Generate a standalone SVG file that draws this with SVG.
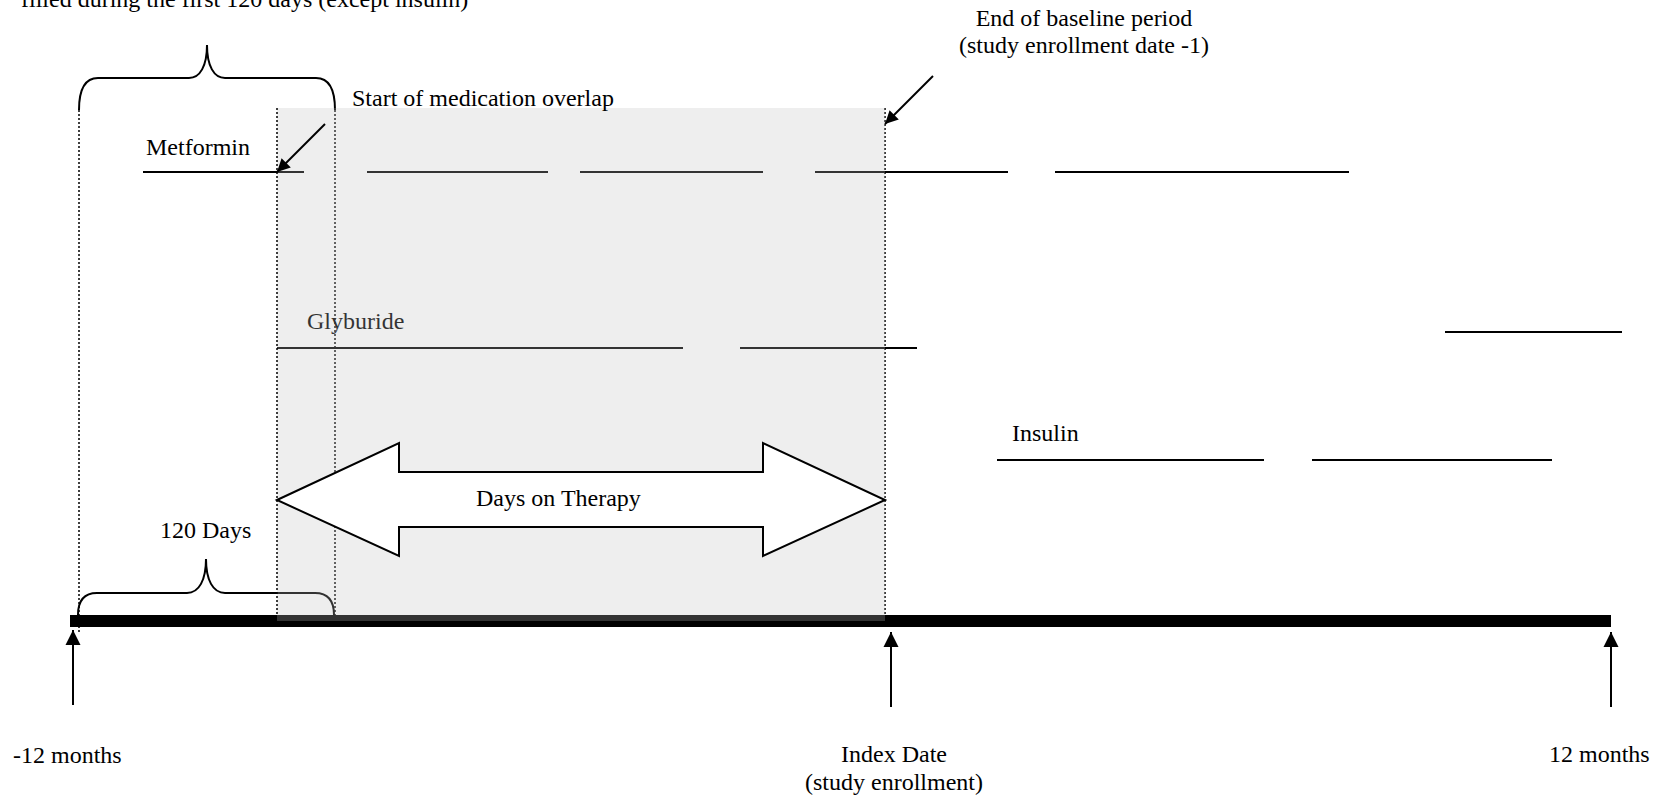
<svg xmlns="http://www.w3.org/2000/svg" width="1663" height="799" viewBox="0 0 1663 799">
<style>
text{font-family:"Liberation Serif","Times New Roman",serif;font-size:24px;fill:#000}
.rx{stroke:#000;stroke-width:2;fill:none}
.dot{stroke:#000;stroke-width:1.5;stroke-dasharray:2 2;fill:none}
.br{stroke:#000;stroke-width:2;fill:none}
.mid{text-anchor:middle}
</style>
<defs>
<marker id="ah" viewBox="0 0 10 10" refX="10" refY="5" markerUnits="userSpaceOnUse" markerWidth="16" markerHeight="13" orient="auto">
<path d="M0,0 L10,5 L0,10 z" fill="#000"/>
</marker>
<marker id="ahv" viewBox="0 0 10 10" refX="10" refY="5" markerUnits="userSpaceOnUse" markerWidth="15" markerHeight="16" orient="auto">
<path d="M0,0 L10,5 L0,10 z" fill="#000"/>
</marker>
</defs>
<rect width="1663" height="799" fill="#fff"/>

<g id="top-note"><text x="21" y="7">filled during the first 120 days (except insulin)</text></g>
<g id="top-brace"><path class="br" d="M79,110 C79,88 86,78 98,78 L189,78 C200,78 207,66 207,45 C207,66 214,78 225,78 L316,78 C328,78 335,88 335,110"/></g>

<g id="guides">
<line class="dot" x1="79" y1="110" x2="79" y2="633"/>
<line class="dot" x1="335" y1="110" x2="335" y2="627"/>
<line class="dot" x1="885" y1="108" x2="885" y2="615"/>
</g>

<g id="metformin">
<text x="146" y="155">Metformin</text>
<line class="rx" x1="143" y1="172" x2="304" y2="172"/>
<line class="rx" x1="367" y1="172" x2="548" y2="172"/>
<line class="rx" x1="580" y1="172" x2="763" y2="172"/>
<line class="rx" x1="815" y1="172" x2="1008" y2="172"/>
<line class="rx" x1="1055" y1="172" x2="1349" y2="172"/>
</g>

<g id="glyburide">
<text x="307" y="329">Glyburide</text>
<line class="rx" x1="277" y1="348" x2="683" y2="348"/>
<line class="rx" x1="740" y1="348" x2="917" y2="348"/>
<line class="rx" x1="1445" y1="332" x2="1622" y2="332"/>
</g>

<g id="insulin">
<text x="1012" y="441">Insulin</text>
<line class="rx" x1="997" y1="460" x2="1264" y2="460"/>
<line class="rx" x1="1312" y1="460" x2="1552" y2="460"/>
</g>

<g id="days-120">
<text x="160" y="538">120 Days</text>
<path class="br" d="M78,615 C78,600 85,593 97,593 L187,593 C199,593 206,580 206,559 C206,580 213,593 225,593 L315,593 C327,593 334,600 334,615"/>
</g>

<g id="timeline"><rect x="70" y="615" width="1541" height="12" fill="#000"/></g>

<g id="baseline-window"><rect x="277" y="108" width="608" height="513" fill="#bfbfbf" fill-opacity="0.267"/></g>

<g id="guide-start"><line class="dot" x1="277" y1="108" x2="277" y2="615"/></g>

<g id="days-on-therapy">
<polygon points="277,500 399,443 399,472 763,472 763,443 885,500 763,556 763,527 399,527 399,556" fill="#fff" stroke="#000" stroke-width="2" stroke-linejoin="miter"/>
<text x="476" y="506">Days on Therapy</text>
</g>

<g id="overlap-label"><text x="352" y="106">Start of medication overlap</text></g>
<g id="baseline-end-label">
<text class="mid" x="1084" y="26">End of baseline period</text>
<text class="mid" x="1084" y="53">(study enrollment date -1)</text>
</g>

<g id="label-minus12"><text x="13" y="763">-12 months</text></g>
<g id="label-index">
<text class="mid" x="894" y="762">Index Date</text>
<text class="mid" x="894" y="790">(study enrollment)</text>
</g>
<g id="label-plus12"><text x="1549" y="762">12 months</text></g>

<g id="connectors">
<line x1="325" y1="124" x2="277" y2="172" stroke="#000" stroke-width="2" marker-end="url(#ah)"/>
<line x1="933" y1="76" x2="885" y2="124" stroke="#000" stroke-width="2" marker-end="url(#ah)"/>
<line x1="73" y1="705" x2="73" y2="630" stroke="#000" stroke-width="2" marker-end="url(#ahv)"/>
<line x1="891" y1="707" x2="891" y2="632" stroke="#000" stroke-width="2" marker-end="url(#ahv)"/>
<line x1="1611" y1="707" x2="1611" y2="632" stroke="#000" stroke-width="2" marker-end="url(#ahv)"/>
</g>
</svg>
